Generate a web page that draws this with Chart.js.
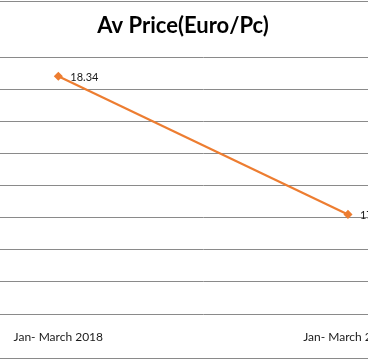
<!DOCTYPE html>
<html>
<head>
<meta charset="utf-8">
<script src="https://cdn.jsdelivr.net/npm/chart.js@4"></script>
<style>
  html, body { margin: 0; padding: 0; background: #fff; overflow: hidden; }
  body { width: 368px; height: 360px; position: relative; }
  /* the picture is a crop of a wider chart, so the canvas runs past both edges */
  #wrap { position: absolute; left: -132px; top: 0; width: 630px; height: 360px; }
</style>
</head>
<body>
<div id="wrap"><canvas id="priceChart"></canvas></div>
<script>
var periods = ["Jan- March 2018", "Jan- March 2019"];
var avgPrice = [18.34, 17.91];
var yMin = 17.6;
var yMax = 18.4;
var yStep = 0.1;

var lineColor = "#ed7d31";
var gridColor = "#8a8a8a";
var textColor = "#1a1a1a";

// grey frame lines at top and bottom of the chart box
var frameLines = {
  id: "frameLines",
  beforeDraw: function (chart) {
    var ctx = chart.ctx;
    ctx.save();
    ctx.strokeStyle = gridColor;
    ctx.lineWidth = 1;
    ctx.beginPath();
    ctx.moveTo(0, 1.5);
    ctx.lineTo(chart.width, 1.5);
    ctx.moveTo(0, 358.5);
    ctx.lineTo(chart.width, 358.5);
    ctx.stroke();
    ctx.restore();
  },
};

// value labels to the right of each point
var valueLabels = {
  id: "valueLabels",
  afterDatasetsDraw: function (chart) {
    var ctx = chart.ctx;
    var meta = chart.getDatasetMeta(0);
    ctx.save();
    ctx.font = "11px Lato";
    ctx.fillStyle = textColor;
    ctx.textBaseline = "middle";
    ctx.textAlign = "left";
    meta.data.forEach(function (pt, i) {
      ctx.fillText(avgPrice[i].toFixed(2), pt.x + 12, pt.y + 1);
    });
    ctx.restore();
  },
};

new Chart(document.getElementById("priceChart"), {
  type: "line",
  data: {
    labels: periods,
    datasets: [
      {
        data: avgPrice,
        borderColor: lineColor,
        backgroundColor: lineColor,
        borderWidth: 2.2,
        pointStyle: "rectRot",
        pointRadius: 3,
        pointHoverRadius: 3,
        tension: 0,
      },
    ],
  },
  options: {
    responsive: true,
    maintainAspectRatio: false,
    animation: false,
    plugins: {
      legend: { display: false },
      tooltip: { enabled: false },
      title: {
        display: true,
        text: "Av Price(Euro/Pc)",
        color: "#000",
        font: { family: "Lato", size: 22, weight: "bold" },
        padding: { top: 13, bottom: 17.6 },
      },
    },
    scales: {
      x: {
        offset: true,
        grid: { display: false, drawTicks: false },
        border: { display: false },
        ticks: { color: textColor, font: { family: "Lato", size: 12 }, padding: 16 },
        afterFit: function (scale) {
          scale.height = 46;
        },
      },
      y: {
        min: yMin,
        max: yMax,
        ticks: {
          stepSize: yStep,
          color: textColor,
          font: { family: "Lato", size: 12 },
          callback: function (v) {
            return v.toFixed(1);
          },
        },
        grid: { color: gridColor, lineWidth: 1, drawTicks: false },
        border: { display: false },
        afterFit: function (scale) {
          scale.width = 45.5;
        },
      },
    },
  },
  plugins: [frameLines, valueLabels],
});
</script>
</body>
</html>
